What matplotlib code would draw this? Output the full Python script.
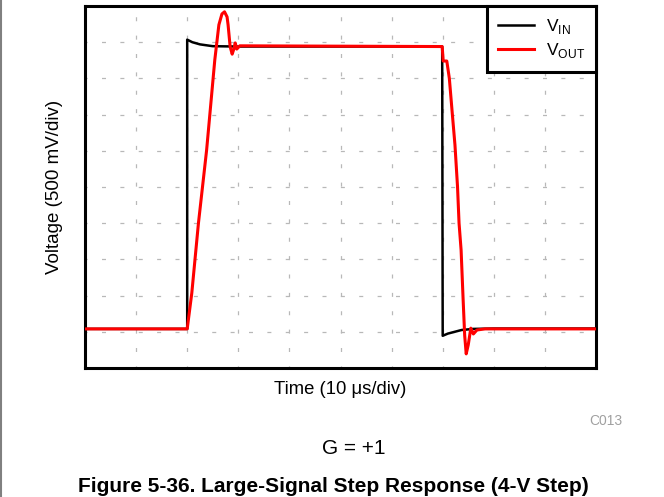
import numpy as np
import matplotlib.pyplot as plt
from matplotlib.lines import Line2D

plt.rcParams['font.family'] = ['Liberation Sans', 'DejaVu Sans']
plt.rcParams['mathtext.fontset'] = 'custom'
plt.rcParams['mathtext.rm'] = 'Liberation Sans'

# time in divisions (10 us/div), voltage in divisions (500 mV/div)
t_in = [0.0, 2.0, 2.0, 2.1, 2.25, 2.5, 3.0, 6.99, 7.0, 7.1, 7.37, 7.6, 8.0, 10.0]
v_in = [1.08, 1.08, 9.07, 9.0, 8.94, 8.89, 8.88, 8.88, 0.89, 0.95, 1.05, 1.08, 1.09, 1.09]

t_out = [0.0, 2.0, 2.02, 2.09, 2.22, 2.38, 2.54, 2.62, 2.68, 2.73, 2.78, 2.80,
         2.84, 2.88, 2.91, 2.94, 2.97, 3.03, 6.99, 7.01, 7.08, 7.13, 7.19, 7.24,
         7.29, 7.32, 7.36, 7.40, 7.43, 7.46, 7.50, 7.55, 7.60, 7.67, 7.83, 10.0]
v_out = [1.08, 1.08, 1.3, 2.07, 4.0, 6.02, 8.51, 9.48, 9.78, 9.84, 9.7, 9.48,
         8.88, 8.67, 8.8, 8.98, 8.81, 8.9, 8.88, 8.48, 8.48, 8.0, 6.99, 6.16,
         5.01, 4.0, 3.26, 1.88, 0.9, 0.39, 0.64, 1.10, 0.94, 1.05, 1.08, 1.08]

fig = plt.figure(figsize=(6.64, 4.97), dpi=100)
ax = fig.add_axes([85 / 664, 1 - 368 / 497, 511 / 664, 362 / 497])

ax.plot(t_in, v_in, color='black', lw=1.8, label='V$_\\mathregular{IN}$', zorder=3)
ax.plot(t_out, v_out, color='#ff0000', lw=2.2, label='V$_\\mathregular{OUT}$', zorder=4)

ax.set_xlim(0, 10)
ax.set_ylim(0, 10)
ax.set_xticks(np.arange(1, 10))
ax.set_yticks(np.arange(1, 10))
ax.tick_params(length=0, labelbottom=False, labelleft=False)
ax.grid(True, color='#b8b8b8', lw=0.9, linestyle=(1.5, (3.2, 11.5)))
for s in ax.spines.values():
    s.set_linewidth(2.2)
    s.set_color('black')

ax.set_xlabel('Time (10 \u03bcs/div)', fontsize=13.3)
ax.xaxis.label.set_va('center')
ax.xaxis.set_label_coords(0.5, (368 - 390) / 362)
ax.set_ylabel('Voltage (500 mV/div)', fontsize=13.5)
ax.yaxis.label.set_va('center')
ax.yaxis.set_label_coords((55 - 85) / 511, 0.5)

leg = ax.legend(loc='upper right', bbox_to_anchor=(1, 1), borderaxespad=0,
                fancybox=False, framealpha=1, edgecolor='black', fontsize=12.5,
                handlelength=2.1, handletextpad=0.65, borderpad=0.65, labelspacing=0.3)
leg.get_frame().set_linewidth(2.2)

fig.text(606 / 664, 1 - 421 / 497, 'C013', color='#a0a0a0', fontsize=10,
         ha='center', va='center')
fig.text(354 / 664, 1 - 449 / 497, 'G = +1', fontsize=15, ha='center', va='center')
fig.text(333 / 664, 1 - 487 / 497, 'Figure 5-36. Large-Signal Step Response (4-V Step)',
         fontsize=15, fontweight='bold', ha='center', va='center')

fig.add_artist(Line2D([1 / 664, 1 / 664], [0, 1], color='#808080', lw=1.5,
                      transform=fig.transFigure))

fig.savefig('out.png', dpi=100)
